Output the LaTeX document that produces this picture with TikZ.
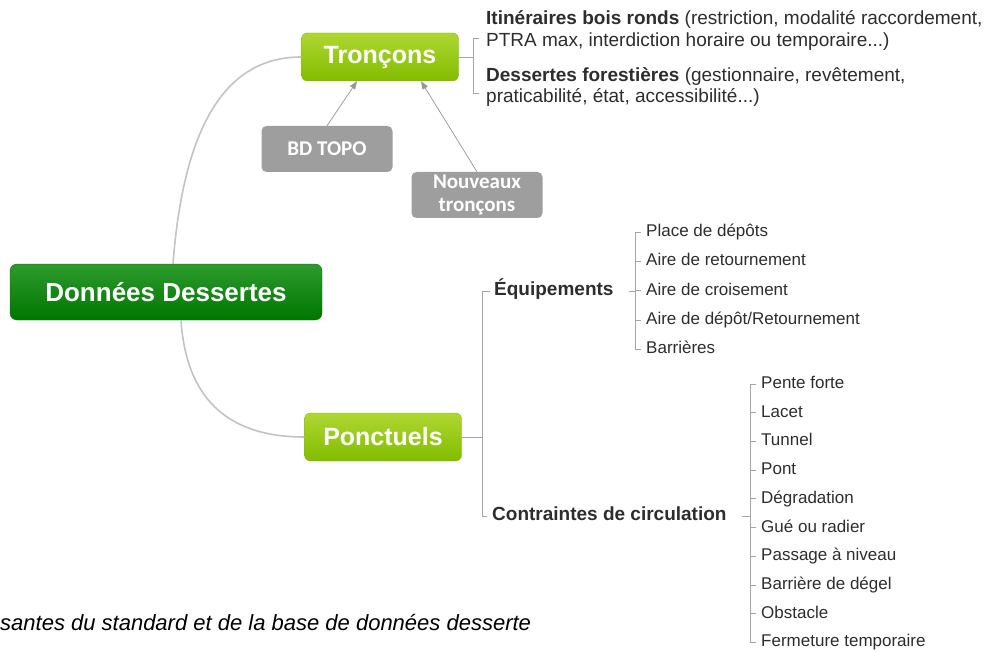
\documentclass[tikz,border=0pt]{standalone}
\usepackage{fontspec}
\setmainfont{Liberation Sans}
\newfontfamily\calibri{Carlito}
\usetikzlibrary{arrows.meta,positioning}

\definecolor{rootlight}{RGB}{45,155,45}
\definecolor{rootdark}{RGB}{0,118,0}
\definecolor{limelight}{RGB}{175,215,50}
\definecolor{limedark}{RGB}{130,188,0}
\definecolor{srcgray}{RGB}{158,158,158}
\definecolor{textgray}{RGB}{45,45,45}
\definecolor{linkgray}{RGB}{195,195,195}
\definecolor{branchgray}{RGB}{165,165,165}
\definecolor{feedgray}{RGB}{150,150,150}

\begin{document}
\begin{tikzpicture}[x=1pt, y=-1pt,
  every node/.style={font=\fontsize{17}{21}\selectfont, text=textgray},
  rootbox/.style={rounded corners=7pt, top color=rootlight, bottom color=rootdark, draw=rootdark, text=white, font=\bfseries\fontsize{26}{30}\selectfont, minimum width=312pt, minimum height=56pt},
  mainbox/.style={rounded corners=6pt, top color=limelight, bottom color=limedark, draw=limedark, text=white, font=\bfseries\fontsize{25}{28}\selectfont, minimum width=157pt, minimum height=48pt},
  srcbox/.style={rounded corners=5pt, fill=srcgray, text=white, font=\calibri\bfseries\fontsize{21}{23}\selectfont, align=center, minimum width=131pt, minimum height=46pt, inner sep=1pt},
  item/.style={anchor=west, inner sep=1pt, text height=12.5pt, text depth=3.5pt},
  head/.style={item, font=\bfseries\fontsize{19}{22}\selectfont},
  note/.style={anchor=west, inner sep=1pt, align=left, font=\fontsize{19}{21.5}\selectfont},
  link/.style={draw=linkgray, line width=1.6pt},
  branch/.style={draw=branchgray, line width=0.8pt},
  feed/.style={draw=feedgray, line width=0.7pt, -{Triangle[length=8pt, width=6pt]}}
]
\useasboundingbox (0,0) rectangle (984,652);
% Specification of nodes (position, etc.)

\node (root)        [rootbox]   at (166,292)    {Données Dessertes};
\node (troncons)    [mainbox]   at (380,57)     {Tronçons};
\node (ponctuels)   [mainbox]   at (383,437)    {Ponctuels};
\node (bdtopo)      [srcbox]    at (327,149)    {BD TOPO};
\node (nouveaux)    [srcbox]    at (477,195)    {Nouveaux\\tronçons};

\node (itineraires) [note] at (485,30.5) {\textbf{Itinéraires bois ronds} (restriction, modalité raccordement,\\PTRA max, interdiction horaire ou temporaire...)};
\node (forestieres) [note, below=56.5pt of itineraires.west, anchor=west] {\textbf{Dessertes forestières} (gestionnaire, revêtement,\\praticabilité, état, accessibilité...)};

\node (equipements)  [head]  at (493,291)  {Équipements};
\node (depots)       [item]  at (645,232)  {Place de dépôts};
\node (retournement) [item, below=29.3pt of depots.west, anchor=west]       {Aire de retournement};
\node (croisement)   [item, below=29.3pt of retournement.west, anchor=west] {Aire de croisement};
\node (depotret)     [item, below=29.3pt of croisement.west, anchor=west]   {Aire de dépôt/Retournement};
\node (barrieres)    [item, below=29.3pt of depotret.west, anchor=west]     {Barrières};

\node (contraintes)  [head]  at (491,516)  {Contraintes de circulation};
\node (pente)        [item]  at (760,384)  {Pente forte};
\node (lacet)        [item, below=28.7pt of pente.west, anchor=west]       {Lacet};
\node (tunnel)       [item, below=28.7pt of lacet.west, anchor=west]       {Tunnel};
\node (pont)         [item, below=28.7pt of tunnel.west, anchor=west]      {Pont};
\node (degradation)  [item, below=28.7pt of pont.west, anchor=west]        {Dégradation};
\node (gue)          [item, below=28.7pt of degradation.west, anchor=west] {Gué ou radier};
\node (passage)      [item, below=28.7pt of gue.west, anchor=west]         {Passage à niveau};
\node (degel)        [item, below=28.7pt of passage.west, anchor=west]     {Barrière de dégel};
\node (obstacle)     [item, below=28.7pt of degel.west, anchor=west]       {Obstacle};
\node (fermeture)    [item, below=28.7pt of obstacle.west, anchor=west]    {Fermeture temporaire};

\node (legende) [anchor=west, inner sep=1pt, text=black, font=\itshape\fontsize{22}{26}\selectfont] at (-1,623) {santes du standard et de la base de données desserte};

\coordinate (tspine) at ([xshift=-12pt]itineraires.west);
\coordinate (pspine) at ([xshift=-9pt]contraintes.west);
\coordinate (espine) at ([xshift=-10pt]depots.west);
\coordinate (cspine) at ([xshift=-10pt]pente.west);

% main branches
\draw[link]   ([xshift=7pt]root.north) .. controls +(10,-130) and +(-80,0) .. (troncons.west);
\draw[link]   ([xshift=15pt]root.south) .. controls +(5,75) and +(-80,0) .. (ponctuels.west);

\draw[feed]   (bdtopo.north) -- ([xshift=-23pt]troncons.south);
\draw[feed]   (nouveaux.north) -- ([xshift=41pt]troncons.south);

% Troncons
\draw[branch] (troncons.east) -- (troncons.east -| tspine);
\draw[branch] ([xshift=-6pt,yshift=-8pt]itineraires.west) -| ([xshift=-12pt,yshift=-6pt]forestieres.west) -- ([xshift=-6pt,yshift=-6pt]forestieres.west);

% Ponctuels
\draw[branch] (ponctuels.east) -- (ponctuels.east -| pspine);
\draw[branch] ([xshift=-3pt]equipements.west) -| (pspine |- contraintes.west) -- ([xshift=-4pt]contraintes.west);

% Equipements
\draw[branch] ([xshift=14pt]equipements.east) -- (equipements.east -| espine);
\draw[branch] (espine |- depots.west) -- (espine |- barrieres.west);
\draw[branch] (espine |- depots.west) -- ([xshift=-4pt]depots.west);
\draw[branch] (espine |- retournement.west) -- ([xshift=-4pt]retournement.west);
\draw[branch] (espine |- croisement.west) -- ([xshift=-4pt]croisement.west);
\draw[branch] (espine |- depotret.west) -- ([xshift=-4pt]depotret.west);
\draw[branch] (espine |- barrieres.west) -- ([xshift=-4pt]barrieres.west);

% Contraintes
\draw[branch] ([xshift=14pt]contraintes.east) -- (contraintes.east -| cspine);
\draw[branch] (cspine |- pente.west) -- (cspine |- fermeture.west);
\draw[branch] (cspine |- pente.west) -- ([xshift=-4pt]pente.west);
\draw[branch] (cspine |- lacet.west) -- ([xshift=-4pt]lacet.west);
\draw[branch] (cspine |- tunnel.west) -- ([xshift=-4pt]tunnel.west);
\draw[branch] (cspine |- pont.west) -- ([xshift=-4pt]pont.west);
\draw[branch] (cspine |- degradation.west) -- ([xshift=-4pt]degradation.west);
\draw[branch] (cspine |- gue.west) -- ([xshift=-4pt]gue.west);
\draw[branch] (cspine |- passage.west) -- ([xshift=-4pt]passage.west);
\draw[branch] (cspine |- degel.west) -- ([xshift=-4pt]degel.west);
\draw[branch] (cspine |- obstacle.west) -- ([xshift=-4pt]obstacle.west);
\draw[branch] (cspine |- fermeture.west) -- ([xshift=-4pt]fermeture.west);

\end{tikzpicture}
\end{document}
